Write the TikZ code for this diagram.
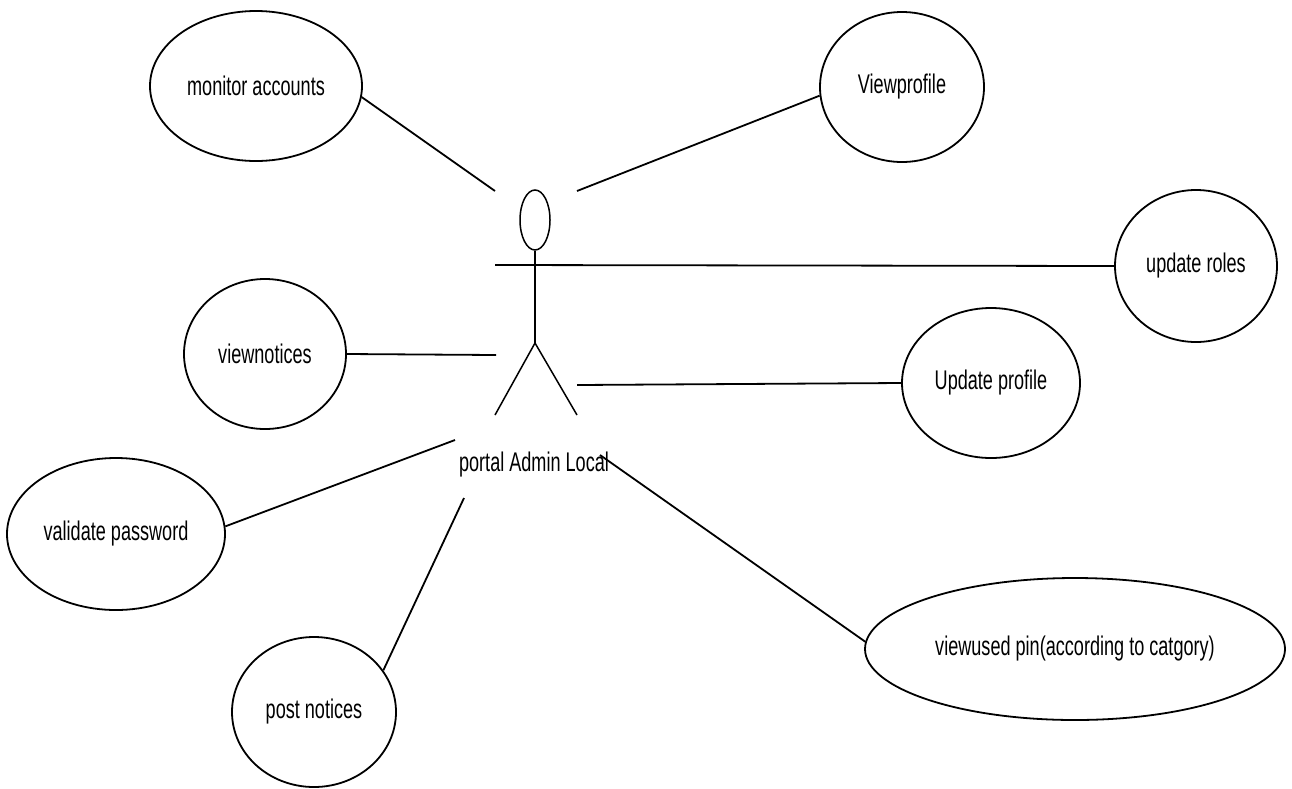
\documentclass[tikz,border=0pt]{standalone}
\usepackage{fontspec}
\setmainfont{Liberation Sans}[FakeStretch=0.67]
\usetikzlibrary{shapes.geometric}

\begin{document}
\begin{tikzpicture}[x=1pt,y=-1pt,
    usecase/.style={ellipse,draw,line width=1.8pt,inner sep=0pt,font=\fontsize{27}{30}\selectfont},
    link/.style={line width=1.8pt},
    stick/.style={line width=1.5pt}]
    \useasboundingbox (0,0) rectangle (1292,788);

    % The actor
    \node (head) [ellipse,draw,stick,inner sep=0pt,minimum width=30pt,minimum height=60pt] at (535,220) {};
    \coordinate (hip) at (535,343);
    \coordinate (arm_left) at (495,265);
    \coordinate (foot_left) at (495,415);
    \coordinate (foot_right) at (577,415);
    \node (actor) [font=\fontsize{27}{30}\selectfont] at (534,465) {portal Admin Local};

    % Use cases on the left
    \node (monitor) [usecase,minimum width=212pt,minimum height=150pt] at (256,86) {monitor accounts};
    \node (viewnotices) [usecase,minimum width=162pt,minimum height=150pt] at (265,354) {viewnotices};
    \node (validate) [usecase,minimum width=218pt,minimum height=152pt] at (116,534) {validate password};
    \node (post) [usecase,minimum width=164pt,minimum height=150pt] at (314,712) {post notices};

    % Use cases on the right
    \node (viewprofile) [usecase,minimum width=164pt,minimum height=150pt] at (902,87) {Viewprofile};
    \node (roles) [usecase,minimum width=162pt,minimum height=152pt] at (1196,266) {update roles};
    \node (updateprofile) [usecase,minimum width=178pt,minimum height=150pt] at (991,383) {Update profile};
    \node (pin) [usecase,minimum width=420pt,minimum height=142pt] at (1075,649) {viewused pin(according to catgory)};

    % Loose ends of the connectors round the actor
    \coordinate (c_monitor) at (495,191);
    \coordinate (c_viewprofile) at (577,191);
    \coordinate (c_viewnotices) at (496,355);
    \coordinate (c_updateprofile) at (577,385);
    \coordinate (c_validate) at (455,440);
    \coordinate (c_post) at (464,498);
    \coordinate (c_pin) at (600,455);

    % Stick figure
    \draw[stick] (head.south) -- (hip);
    \draw[stick] (foot_left) -- (hip) -- (foot_right);

    % Connectors
    \draw[link] (arm_left) -- (roles.west);
    \draw[link] (monitor.-6) -- (c_monitor);
    \draw[link] (viewprofile.186) -- (c_viewprofile);
    \draw[link] (viewnotices.east) -- (c_viewnotices);
    \draw[link] (updateprofile.west) -- (c_updateprofile);
    \draw[link] (validate.4) -- (c_validate);
    \draw[link] (post.31) -- (c_post);
    \draw[link] (pin.178) -- (c_pin);
\end{tikzpicture}
\end{document}
